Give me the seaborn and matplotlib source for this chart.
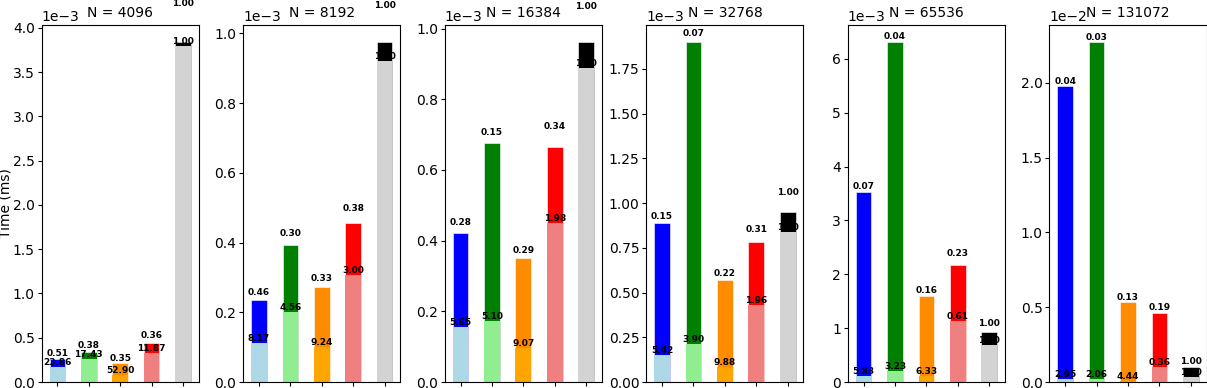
import matplotlib
matplotlib.use("Agg")
import matplotlib.pyplot as plt
import seaborn as sns
import pandas as pd

sizes = [4096, 8192, 16384, 32768, 65536, 131072]
methods = ["m1", "m2", "m3", "m4", "m5"]

light_colors = ["lightblue", "lightgreen", "orange", "lightcoral", "lightgray"]
dark_colors = ["blue", "green", "darkorange", "red", "black"]

# lower (light) part of each bar, ms
base_ms = [
    [0.173e-3, 0.257e-3, 0.076e-3, 0.325e-3, 3.800e-3],
    [0.111e-3, 0.201e-3, 0.101e-3, 0.306e-3, 0.920e-3],
    [0.155e-3, 0.174e-3, 0.097e-3, 0.449e-3, 0.889e-3],
    [0.151e-3, 0.211e-3, 0.084e-3, 0.428e-3, 0.840e-3],
    [0.112e-3, 0.211e-3, 0.106e-3, 1.137e-3, 0.689e-3],
    [0.18e-3, 0.22e-3, 0.09e-3, 1.03e-3, 0.36e-3],
]

# full bar height, ms
total_ms = [
    [0.256e-3, 0.336e-3, 0.212e-3, 0.445e-3, 3.841e-3],
    [0.234e-3, 0.392e-3, 0.273e-3, 0.455e-3, 0.975e-3],
    [0.422e-3, 0.677e-3, 0.350e-3, 0.666e-3, 0.962e-3],
    [0.886e-3, 1.900e-3, 0.572e-3, 0.784e-3, 0.952e-3],
    [3.527e-3, 6.311e-3, 1.602e-3, 2.180e-3, 0.926e-3],
    [19.78e-3, 22.73e-3, 5.35e-3, 4.61e-3, 1.03e-3],
]

top_labels = [
    [0.51, 0.38, 0.35, 0.36, 1.00],
    [0.46, 0.30, 0.33, 0.38, 1.00],
    [0.28, 0.15, 0.29, 0.34, 1.00],
    [0.15, 0.07, 0.22, 0.31, 1.00],
    [0.07, 0.04, 0.16, 0.23, 1.00],
    [0.04, 0.03, 0.13, 0.19, 1.00],
]

mid_labels = [
    [23.86, 17.43, 52.90, 11.87, 1.00],
    [8.17, 4.56, 9.24, 3.00, 1.00],
    [5.65, 5.10, 9.07, 1.98, 1.00],
    [5.42, 3.90, 9.88, 1.96, 1.00],
    [5.83, 3.23, 6.33, 0.61, 1.00],
    [2.95, 2.06, 4.44, 0.36, 1.00],
]

fig, axes = plt.subplots(1, 6, figsize=(12.07, 3.88), dpi=100)
plt.subplots_adjust(left=41.7 / 1207, right=1206.5 / 1207,
                    bottom=6 / 388, top=363 / 388, wspace=0.2835)

for i, ax in enumerate(axes):
    df = pd.DataFrame({"method": methods, "total": total_ms[i], "base": base_ms[i]})
    sns.barplot(data=df, x="method", y="total", hue="method",
                palette=dict(zip(methods, dark_colors)), width=0.5,
                saturation=1, errorbar=None, legend=False, ax=ax,
                edgecolor="white", linewidth=0.4)
    sns.barplot(data=df, x="method", y="base", hue="method",
                palette=dict(zip(methods, light_colors)), width=0.5,
                saturation=1, errorbar=None, legend=False, ax=ax, linewidth=0)

    for j in range(len(methods)):
        b = base_ms[i][j]
        t = total_ms[i][j]
        ax.text(j, t + 0.1 * b, f"{top_labels[i][j]:.2f}", ha="center",
                va="bottom", fontsize=6.5, fontweight="bold")
        ax.text(j, b, f"{mid_labels[i][j]:.2f}", ha="center",
                va="bottom", fontsize=6.5, fontweight="bold")

    ax.set_title(f"N = {sizes[i]}", fontsize=10, y=1.0)
    ax.ticklabel_format(axis="y", style="sci", scilimits=(0, 0))
    ax.tick_params(length=2.9, pad=2)
    ax.set_xticks(range(len(methods)))
    ax.set_xticklabels([])
    ax.set_xlabel("")
    if i == 0:
        ax.set_ylabel("Time (ms)", labelpad=0.5)
    else:
        ax.set_ylabel("")

plt.savefig("out.png", dpi=100)
